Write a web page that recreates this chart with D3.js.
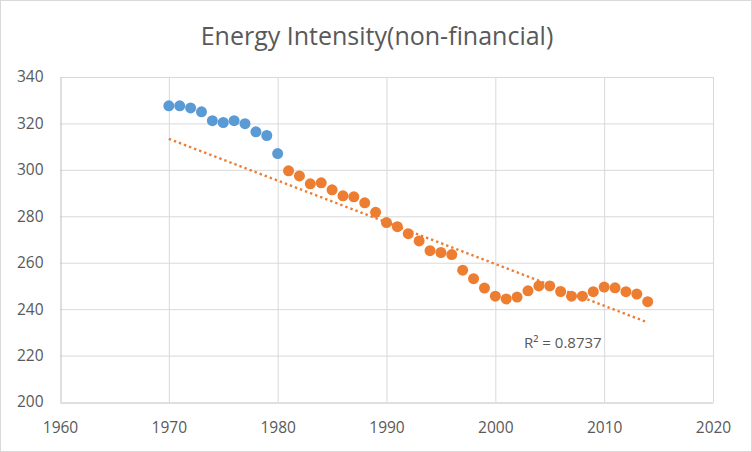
<!DOCTYPE html>
<html><head><meta charset="utf-8">
<script src="https://cdn.jsdelivr.net/npm/d3@7"></script>
<style>body{margin:0;background:#fff}svg{display:block}</style>
</head><body>
<svg id="c" width="752" height="452"></svg>
<script>
const title = "Energy Intensity(non-financial)";
const blueYears = [1970,1971,1972,1973,1974,1975,1976,1977,1978,1979,1980];
const blueValues = [327.6,327.6,326.7,325.0,321.2,320.4,321.2,319.9,316.4,314.8,307.0];
const orangeYears = [1981,1982,1983,1984,1985,1986,1987,1988,1989,1990,1991,1992,1993,1994,1995,1996,1997,1998,1999,2000,2001,2002,2003,2004,2005,2006,2007,2008,2009,2010,2011,2012,2013,2014];
const orangeValues = [299.6,297.4,294.0,294.4,291.4,288.8,288.4,285.8,281.7,277.3,275.5,272.5,269.4,265.2,264.4,263.5,256.8,253.1,249.1,245.6,244.4,245.2,247.9,250.0,250.0,247.6,245.6,245.6,247.5,249.5,249.2,247.5,246.5,243.2];
const xTicks = [1960,1970,1980,1990,2000,2010,2020];
const yTicks = [200,220,240,260,280,300,320,340];
const trendStartYear = 1970;
const r2Label = "R² = 0.8737";

const svg = d3.select("#c");
const W = 752, H = 452;
const m = {l:60, r:39, t:77, b:50};
const x = d3.scaleLinear().domain([1960,2020]).range([m.l, W-m.r]);
const y = d3.scaleLinear().domain([200,340]).range([H-m.b, m.t]);
const font = "'Open Sans', 'Liberation Sans', sans-serif";

svg.append("rect").attr("x",0.5).attr("y",0.5).attr("width",W-1).attr("height",H-1)
  .attr("fill","#fff").attr("stroke","#D9D9D9");

svg.append("text").attr("x",377).attr("y",45).attr("text-anchor","middle")
  .attr("font-family",font).attr("font-size",25).attr("fill","#595959").text(title);

// gridlines
svg.append("g").selectAll("line").data(yTicks.slice(1)).join("line")
  .attr("x1",m.l).attr("x2",W-m.r).attr("y1",d=>y(d)+0.5).attr("y2",d=>y(d)+0.5)
  .attr("stroke","#D9D9D9").attr("stroke-width",1);
svg.append("g").selectAll("line").data(xTicks.slice(1)).join("line")
  .attr("y1",m.t).attr("y2",H-m.b).attr("x1",d=>x(d)+0.5).attr("x2",d=>x(d)+0.5)
  .attr("stroke","#D9D9D9").attr("stroke-width",1);

// axes
const yAxis = d3.axisLeft(y).tickValues(yTicks).tickSize(0).tickPadding(17);
const gy = svg.append("g").attr("transform",`translate(${m.l+0.5},0)`).call(yAxis);
const xAxis = d3.axisBottom(x).tickValues(xTicks).tickSize(0).tickPadding(19).tickFormat(d3.format("d"));
const gx = svg.append("g").attr("transform",`translate(0,${H-m.b+0.5})`).call(xAxis);
[gx,gy].forEach(g=>{
  g.select(".domain").attr("stroke","#BFBFBF");
  g.selectAll("text").attr("font-family",font).attr("font-size",15.5).attr("fill","#595959");
});

// trendline: linear regression of the orange series, extended back to 1970
const n = orangeYears.length, mx = d3.mean(orangeYears), my = d3.mean(orangeValues);
let sxy=0, sxx=0;
for(let i=0;i<n;i++){sxy+=(orangeYears[i]-mx)*(orangeValues[i]-my); sxx+=(orangeYears[i]-mx)**2;}
const slope = sxy/sxx, icpt = my - slope*mx;
const x0 = trendStartYear, x1 = d3.max(orangeYears);
svg.append("line").attr("x1",x(x0)).attr("y1",y(icpt+slope*x0)).attr("x2",x(x1)).attr("y2",y(icpt+slope*x1))
  .attr("stroke","#ED7D31").attr("stroke-width",2.4).attr("stroke-dasharray","2.4,3");

// points
svg.append("g").selectAll("circle").data(blueYears.map((d,i)=>[d,blueValues[i]])).join("circle")
  .attr("cx",d=>x(d[0])).attr("cy",d=>y(d[1])).attr("r",5.5).attr("fill","#5B9BD5");
svg.append("g").selectAll("circle").data(orangeYears.map((d,i)=>[d,orangeValues[i]])).join("circle")
  .attr("cx",d=>x(d[0])).attr("cy",d=>y(d[1])).attr("r",5.5).attr("fill","#ED7D31");

svg.append("text").attr("x",524).attr("y",348).attr("font-family",font).attr("font-size",15)
  .attr("fill","#595959").text(r2Label);
</script>
</body></html>
